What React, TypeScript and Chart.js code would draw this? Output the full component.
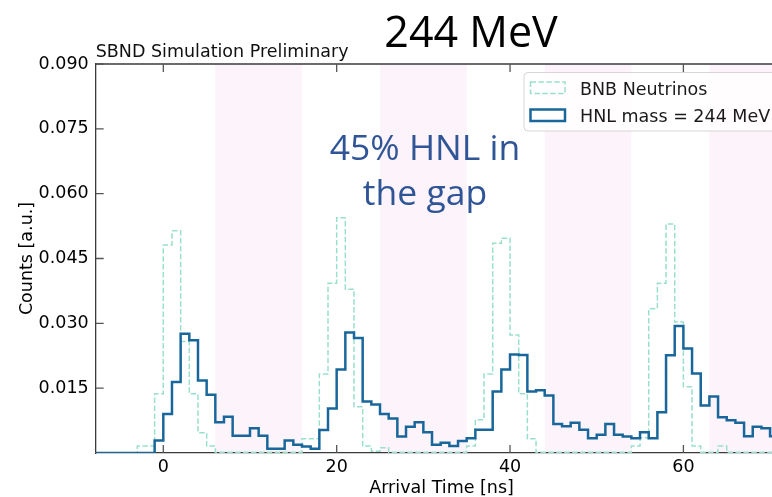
import React, { useEffect, useRef } from 'react';
import { Chart, registerables } from 'chart.js';

Chart.register(...registerables);

// ---- data ----
const BIN_START = -8; // left edge of the first 1 ns bin
const hnlCounts = [
  0, 0, 0, 0, 0, 0, 0, // -8 .. -2
  0.0029, // -1
  0.0090, 0.0164, 0.0276, 0.0261, 0.0168, 0.0135, 0.0071, 0.0084, 0.0040, 0.0040, // 0..9
  0.0057, 0.0040, 0.0010, 0.0010, 0.0029, 0.0019, 0.0015, 0.0010, 0.0053, 0.0103, // 10..19
  0.0193, 0.0279, 0.0266, 0.0119, 0.0112, 0.0090, 0.0080, 0.0038, 0.0061, 0.0071, // 20..29
  0.0048, 0.0019, 0.0024, 0.0016, 0.0028, 0.0034, 0.0054, 0.0054, 0.0142, 0.0193, // 30..39
  0.0228, 0.0227, 0.0142, 0.0145, 0.0133, 0.0067, 0.0062, 0.0070, 0.0054, 0.0034, // 40..49
  0.0042, 0.0067, 0.0042, 0.0038, 0.0034, 0.0048, 0.0034, 0.0094, 0.0226, 0.0294, // 50..59
  0.0242, 0.0184, 0.0110, 0.0131, 0.0083, 0.0076, 0.0070, 0.0039, 0.0061, 0.0057, 0.0039, // 60..70
];
const bnbCounts = [
  0, 0, 0, 0, 0, // -8 .. -4
  0.0016, 0.0016, 0.0137, // -3 .. -1
  0.0481, 0.0514, 0.0258, 0.0137, 0.0047, 0.0016, 0.0002, 0.0002, 0.0002, 0.0002, // 0..9
  0.0002, 0.0002, 0.0002, 0.0002, 0.0002, 0.0002, 0.0033, 0.0033, 0.0183, 0.0393, // 10..19
  0.0544, 0.0379, 0.0107, 0.0016, 0.0004, 0.0012, 0.0002, 0.0002, 0.0002, 0.0002, // 20..29
  0.0002, 0.0002, 0.0002, 0.0002, 0.0002, 0.0016, 0.0077, 0.0183, 0.0485, 0.0497, // 30..39
  0.0273, 0.0137, 0.0033, 0.0002, 0.0002, 0.0002, 0.0002, 0.0002, 0.0002, 0.0002, // 40..49
  0.0002, 0.0002, 0.0002, 0.0002, 0.0016, 0.0035, 0.0334, 0.0393, 0.0530, 0.0303, // 50..59
  0.0153, 0.0016, 0.0002, 0.0002, 0.0016, 0.0002, 0.0002, 0.0002, 0.0002, 0.0002, 0.0002, // 60..70
];
const gapBands: [number, number][] = [[6, 16], [25, 35], [44, 54], [63, 73]];
const xTicks = [0, 20, 40, 60];
const yTicks = [0, 0.015, 0.03, 0.045, 0.06, 0.075, 0.09];
const X_MIN = -7.8;
const X_MAX = 72;
const Y_MIN = 0;
const Y_MAX = 0.09;

const legendLabels = ['BNB Neutrinos', 'HNL mass = 244 MeV'];
const titleText = '244 MeV';
const subTitle = 'SBND Simulation Preliminary';
const noteLines = ['45% HNL in', 'the gap'];

// ---- styles ----
const HNL_COLOR = '#19679a';
const BNB_COLOR = '#9adfce';
const BAND_COLOR = '#fdf3fa';
const AXIS_COLOR = '#3a3a3a';
const FONT = '"DejaVu Sans", sans-serif';
const FS = 17.5;

function toSteps(counts: number[]) {
  const pts = counts.map((c, i) => ({ x: BIN_START + i, y: c }));
  pts.push({ x: BIN_START + counts.length, y: counts[counts.length - 1] });
  return pts;
}

const decor = {
  id: 'decor',
  beforeDraw(chart: any) {
    const { ctx, chartArea: a, scales } = chart;
    const x = scales.x;
    ctx.save();
    ctx.fillStyle = '#fff';
    ctx.fillRect(0, 0, chart.width, chart.height);
    ctx.fillStyle = BAND_COLOR;
    gapBands.forEach(([s, e]) => {
      const x0 = Math.max(x.getPixelForValue(s), a.left);
      const x1 = Math.min(x.getPixelForValue(e), a.right);
      if (x1 > x0) ctx.fillRect(x0, a.top, x1 - x0, a.bottom - a.top);
    });
    ctx.restore();
  },
  afterDraw(chart: any) {
    const { ctx, chartArea: a, scales } = chart;
    const x = scales.x;
    const y = scales.y;
    ctx.save();
    // top spine
    ctx.strokeStyle = AXIS_COLOR;
    ctx.lineWidth = 1.3;
    ctx.beginPath();
    ctx.moveTo(a.left, a.top);
    ctx.lineTo(a.right, a.top);
    ctx.stroke();
    // inward ticks
    ctx.strokeStyle = '#555';
    ctx.lineWidth = 1.3;
    ctx.beginPath();
    xTicks.forEach((v) => {
      const px = x.getPixelForValue(v);
      ctx.moveTo(px, a.bottom);
      ctx.lineTo(px, a.bottom - 8);
      ctx.moveTo(px, a.top);
      ctx.lineTo(px, a.top + 8);
    });
    yTicks.forEach((v) => {
      if (v === 0) return;
      const py = y.getPixelForValue(v);
      ctx.moveTo(a.left, py);
      ctx.lineTo(a.left + 8, py);
    });
    ctx.stroke();

    // legend
    const lx = 524, ly = 72.5, lw = 262, lh = 58.5, r = 4;
    ctx.beginPath();
    ctx.moveTo(lx + r, ly);
    ctx.lineTo(lx + lw - r, ly);
    ctx.arcTo(lx + lw, ly, lx + lw, ly + r, r);
    ctx.lineTo(lx + lw, ly + lh - r);
    ctx.arcTo(lx + lw, ly + lh, lx + lw - r, ly + lh, r);
    ctx.lineTo(lx + r, ly + lh);
    ctx.arcTo(lx, ly + lh, lx, ly + lh - r, r);
    ctx.lineTo(lx, ly + r);
    ctx.arcTo(lx, ly, lx + r, ly, r);
    ctx.closePath();
    ctx.fillStyle = 'rgba(255,255,255,0.8)';
    ctx.fill();
    ctx.strokeStyle = '#d6d6d6';
    ctx.lineWidth = 1;
    ctx.stroke();

    ctx.setLineDash([5.5, 2.4]);
    ctx.strokeStyle = BNB_COLOR;
    ctx.lineWidth = 1.5;
    ctx.strokeRect(530.5, 82, 34.5, 11.5);
    ctx.setLineDash([]);
    ctx.strokeStyle = HNL_COLOR;
    ctx.lineWidth = 2.5;
    ctx.strokeRect(530.5, 109.5, 34.5, 11.5);

    ctx.fillStyle = '#1a1a1a';
    ctx.font = FS + 'px ' + FONT;
    ctx.textAlign = 'left';
    ctx.textBaseline = 'alphabetic';
    ctx.fillText(legendLabels[0], 580, 94.5);
    ctx.fillText(legendLabels[1], 580, 122);

    // subtitle
    ctx.fillStyle = '#111';
    ctx.fillText(subTitle, a.left, a.top - 7);

    // big title
    ctx.font = '43px "Open Sans", sans-serif';
    ctx.textAlign = 'center';
    ctx.fillStyle = '#000';
    ctx.fillText(titleText, 471, 47);

    // note
    ctx.font = '35.5px "Open Sans", sans-serif';
    ctx.fillStyle = '#2f5597';
    ctx.fillText(noteLines[0], 425, 160);
    ctx.fillText(noteLines[1], 425, 205);
    ctx.restore();
  },
};

export default function App() {
  const ref = useRef<HTMLCanvasElement | null>(null);
  useEffect(() => {
    const canvas = ref.current;
    if (!canvas) return;
    const chart = new Chart(canvas, {
      type: 'line',
      data: {
        datasets: [
          {
            label: legendLabels[1],
            data: toSteps(hnlCounts),
            borderColor: HNL_COLOR,
            borderWidth: 2.5,
            stepped: 'before',
            pointRadius: 0,
            fill: false,
            order: 0,
          },
          {
            label: legendLabels[0],
            data: toSteps(bnbCounts),
            borderColor: BNB_COLOR,
            borderWidth: 1.5,
            borderDash: [5.5, 2.4],
            stepped: 'before',
            pointRadius: 0,
            fill: false,
            order: 1,
          },
        ],
      },
      options: {
        animation: false,
        responsive: false,
        devicePixelRatio: 1,
        layout: { padding: { top: 64, left: 0, right: 2.6, bottom: 0 } },
        plugins: { legend: { display: false }, tooltip: { enabled: false }, title: { display: false } },
        scales: {
          x: {
            type: 'linear',
            min: X_MIN,
            max: X_MAX,
            grid: { display: false, drawTicks: false },
            border: { display: true, color: AXIS_COLOR, width: 1.3 },
            afterBuildTicks: (s: any) => { s.ticks = xTicks.map((v) => ({ value: v })); },
            afterFit: (s: any) => { s.height = 44; },
            ticks: { color: '#000', font: { family: FONT, size: FS }, padding: 4, callback: (v: any) => String(v) },
            title: { display: true, text: 'Arrival Time [ns]', color: '#000', font: { family: FONT, size: FS }, padding: { top: 0, bottom: -2 } },
          },
          y: {
            type: 'linear',
            min: Y_MIN,
            max: Y_MAX,
            grid: { display: false, drawTicks: false },
            border: { display: true, color: AXIS_COLOR, width: 1.3 },
            afterBuildTicks: (s: any) => { s.ticks = yTicks.map((v) => ({ value: v })); },
            afterFit: (s: any) => { s.width = 95.7; },
            ticks: {
              color: '#000',
              font: { family: FONT, size: FS },
              padding: 7,
              callback: (v: any) => (Number(v) === 0 ? '' : Number(v).toFixed(3)),
            },
            title: { display: true, text: 'Counts [a.u.]', color: '#000', font: { family: FONT, size: FS }, padding: { top: 16.5, bottom: 0 } },
          },
        },
      },
      plugins: [decor],
    } as any);
    return () => chart.destroy();
  }, []);
  return (
    <div style={{ position: 'fixed', left: 0, top: 0, width: 772, height: 497, overflow: 'hidden', background: '#fff' }}>
      <canvas ref={ref} width={790} height={497} style={{ width: 790, height: 497, display: 'block' }} />
    </div>
  );
}
